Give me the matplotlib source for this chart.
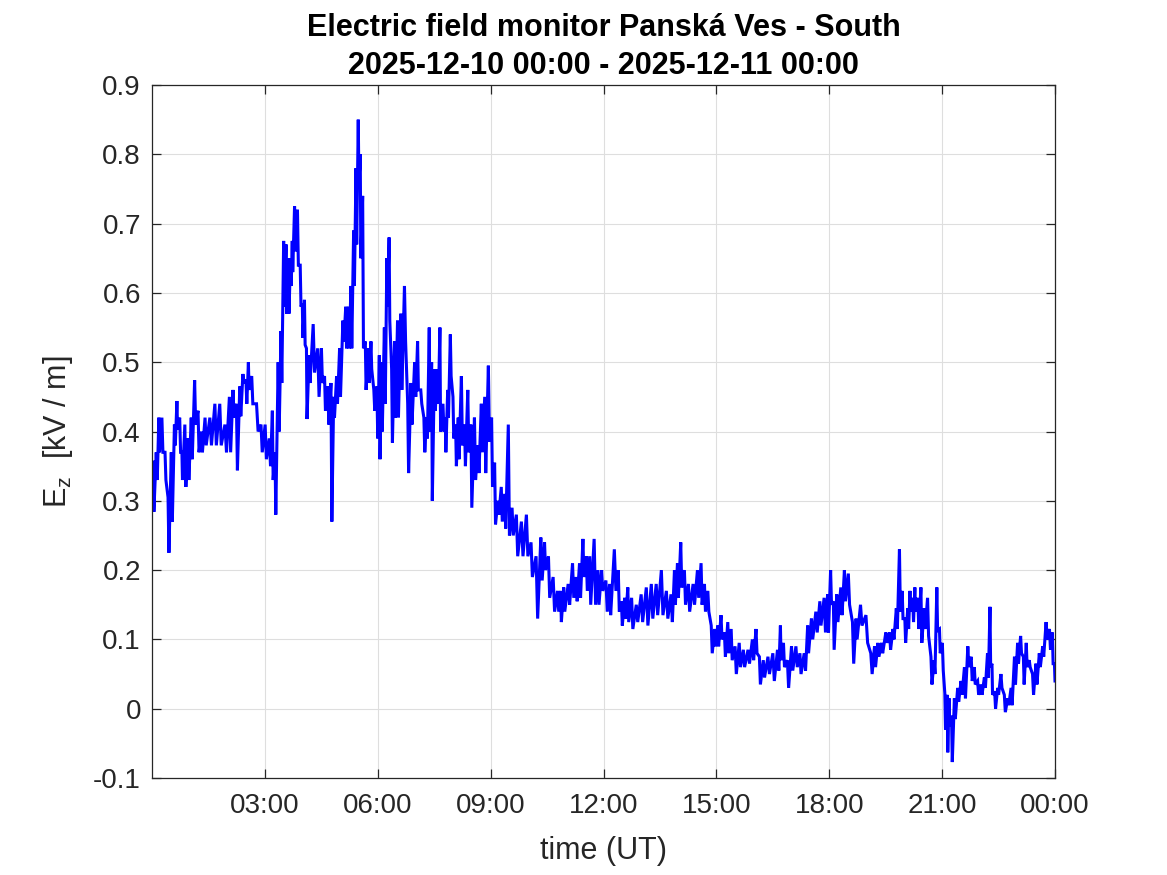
import matplotlib
matplotlib.use("Agg")
import matplotlib.pyplot as plt
import numpy as np

plt.rcParams['font.family'] = ['Liberation Sans', 'DejaVu Sans']

# time (hours UT) of each read sample, with the high and low value of the trace there (kV/m)
t_hours = [0.05,0.14,0.20,0.29,0.37,0.45,0.54,0.62,0.68,0.76,0.81,0.90,0.98,1.07,1.16,1.25,1.34,1.44,1.58,1.71,
           1.84,1.98,2.09,2.18,2.27,2.36,2.44,2.52,2.58,2.68,2.82,2.93,3.04,3.15,3.22,3.29,
           3.38,3.45,3.52,3.58,3.64,3.70,3.74,3.81,3.89,3.96,4.01,4.07,4.12,4.20,4.32,4.44,4.53,4.61,4.70,4.78,
           4.85,4.93,5.01,5.10,5.17,5.24,5.31,5.38,5.44,5.50,5.55,5.62,5.69,5.77,5.84,5.92,6.00,6.06,6.12,6.20,
           6.26,6.32,6.39,6.47,6.55,6.64,6.74,6.82,6.91,7.01,7.08,
           7.17,7.25,7.32,7.39,7.45,7.53,7.61,7.67,7.76,7.81,7.88,7.95,8.02,8.09,8.16,8.25,8.33,8.42,8.50,8.60,
           8.69,8.78,8.87,8.97,9.05,9.13,9.22,9.31,9.40,9.50,9.60,9.72,9.86,9.99,10.11,10.25,
           10.37,10.46,10.57,10.70,10.81,10.88,10.97,11.10,11.21,11.30,11.39,11.48,11.57,11.66,11.79,11.88,11.98,
           12.10,12.19,12.33,12.42,12.50,12.59,12.67,12.78,12.91,13.04,13.18,13.31,13.44,13.58,13.71,13.83,13.91,
           13.99,14.08,14.18,14.29,14.42,14.53,14.62,14.71,14.80,
           14.89,14.98,15.06,15.15,15.24,15.33,15.42,15.53,15.64,15.75,15.88,15.99,16.08,16.17,16.28,16.41,16.54,
           16.66,16.72,16.81,16.92,17.03,17.15,17.25,17.37,17.45,17.56,17.68,17.78,17.90,17.98,18.06,18.13,18.23,
           18.34,18.43,18.54,18.65,18.74,18.87,19.02,19.14,19.23,
           19.32,19.42,19.54,19.63,19.72,19.81,19.89,19.96,20.03,20.11,20.16,20.24,20.29,20.38,20.46,20.55,20.64,
           20.73,20.81,20.88,20.95,21.03,21.09,21.15,21.20,21.27,21.35,21.44,21.53,21.62,21.71,21.80,21.88,21.97,
           22.06,22.15,22.23,22.29,22.34,22.42,22.50,22.59,22.68,22.77,22.86,22.95,23.03,23.11,23.18,23.26,23.34,
           23.43,23.52,23.61,23.70,23.79,23.88,23.95,24.0]
ez_high = [0.356,0.37,0.42,0.42,0.37,0.305,0.37,0.41,0.444,0.42,0.37,0.41,0.39,0.42,0.474,0.43,0.40,0.42,0.42,0.44,
           0.44,0.41,0.45,0.46,0.44,0.465,0.483,0.475,0.50,0.48,0.44,0.41,0.41,0.39,0.43,0.37,
           0.50,0.545,0.675,0.67,0.65,0.65,0.675,0.725,0.72,0.64,0.585,0.59,0.52,0.51,0.555,0.52,0.52,0.48,0.465,0.47,
           0.45,0.48,0.52,0.56,0.58,0.58,0.61,0.69,0.78,0.85,0.80,0.74,0.53,0.52,0.53,0.46,0.465,0.51,0.50,0.55,
           0.65,0.68,0.49,0.53,0.56,0.57,0.61,0.44,0.47,0.50,0.53,
           0.46,0.42,0.42,0.55,0.50,0.49,0.49,0.55,0.44,0.42,0.46,0.54,0.45,0.41,0.42,0.48,0.41,0.46,0.41,0.42,
           0.38,0.44,0.45,0.495,0.42,0.355,0.30,0.32,0.31,0.41,0.29,0.28,0.27,0.28,0.24,0.22,
           0.247,0.24,0.22,0.19,0.17,0.17,0.175,0.18,0.21,0.19,0.21,0.245,0.22,0.22,0.245,0.20,0.20,
           0.185,0.18,0.23,0.20,0.155,0.16,0.175,0.16,0.15,0.165,0.175,0.18,0.18,0.20,0.17,0.165,0.20,
           0.21,0.24,0.20,0.18,0.18,0.20,0.21,0.18,0.17,
           0.12,0.115,0.12,0.135,0.11,0.125,0.115,0.09,0.095,0.085,0.085,0.10,0.115,0.075,0.07,0.075,0.08,
           0.085,0.12,0.095,0.07,0.09,0.09,0.08,0.08,0.12,0.13,0.14,0.155,0.16,0.165,0.20,0.155,0.165,
           0.175,0.20,0.195,0.125,0.13,0.15,0.135,0.08,0.09,
           0.095,0.095,0.11,0.11,0.115,0.145,0.23,0.17,0.13,0.145,0.17,0.16,0.175,0.16,0.175,0.145,0.16,
           0.075,0.07,0.175,0.115,0.095,0.022,0.02,0.015,-0.01,0.015,0.03,0.04,0.06,0.09,0.075,0.06,0.04,
           0.035,0.045,0.08,0.147,0.065,0.025,0.03,0.05,0.02,0.015,0.03,0.075,0.095,0.105,0.075,0.095,0.07,
           0.05,0.065,0.08,0.09,0.125,0.115,0.11,0.065]
ez_low = [0.284,0.33,0.37,0.37,0.33,0.225,0.27,0.38,0.403,0.37,0.33,0.32,0.33,0.36,0.41,0.37,0.37,0.38,0.38,0.38,
          0.38,0.37,0.37,0.42,0.344,0.422,0.47,0.44,0.46,0.44,0.40,0.37,0.36,0.35,0.33,0.28,
          0.40,0.47,0.58,0.57,0.57,0.61,0.63,0.66,0.64,0.58,0.535,0.525,0.418,0.47,0.485,0.45,0.47,0.43,0.41,0.27,
          0.42,0.44,0.45,0.53,0.52,0.52,0.52,0.61,0.67,0.757,0.65,0.52,0.46,0.47,0.49,0.43,0.39,0.36,0.40,0.44,
          0.58,0.56,0.384,0.42,0.42,0.46,0.53,0.34,0.41,0.45,0.46,
          0.44,0.37,0.39,0.40,0.30,0.43,0.44,0.40,0.40,0.37,0.42,0.48,0.39,0.35,0.36,0.38,0.35,0.37,0.29,0.33,
          0.34,0.37,0.34,0.385,0.32,0.266,0.28,0.27,0.26,0.25,0.25,0.22,0.22,0.22,0.19,0.13,
          0.185,0.20,0.16,0.14,0.14,0.125,0.14,0.15,0.16,0.155,0.16,0.19,0.17,0.15,0.15,0.15,0.17,
          0.14,0.135,0.17,0.14,0.12,0.13,0.125,0.115,0.125,0.125,0.12,0.13,0.135,0.135,0.13,0.125,0.15,
          0.16,0.175,0.15,0.14,0.15,0.16,0.15,0.14,0.14,
          0.08,0.09,0.09,0.10,0.075,0.08,0.07,0.05,0.06,0.06,0.065,0.07,0.08,0.035,0.045,0.05,0.04,
          0.055,0.07,0.06,0.03,0.055,0.06,0.05,0.055,0.08,0.10,0.11,0.12,0.11,0.11,0.15,0.085,0.125,
          0.135,0.155,0.15,0.065,0.10,0.12,0.095,0.05,0.06,
          0.075,0.08,0.095,0.085,0.10,0.115,0.14,0.13,0.095,0.115,0.14,0.125,0.14,0.115,0.095,0.115,0.105,
          0.035,0.05,0.113,0.08,0.055,-0.03,-0.063,-0.025,-0.077,-0.015,0.01,0.02,0.015,0.06,0.04,0.035,0.02,
          0.02,0.03,0.045,0.06,0.02,0.0,0.02,0.03,-0.005,0.005,0.005,0.035,0.065,0.08,0.035,0.06,0.06,
          0.02,0.035,0.06,0.075,0.10,0.085,0.065,0.04]

xtick_hours = [3, 6, 9, 12, 15, 18, 21, 24]
xtick_labels = ['03:00', '06:00', '09:00', '12:00', '15:00', '18:00', '21:00', '00:00']
ytick_vals = [-0.1, 0, 0.1, 0.2, 0.3, 0.4, 0.5, 0.6, 0.7, 0.8, 0.9]
ytick_labels = ['-0.1', '0', '0.1', '0.2', '0.3', '0.4', '0.5', '0.6', '0.7', '0.8', '0.9']

# build a zigzag trace (high, low alternately) from the read samples
t_arr = np.array(t_hours)
hi = np.array(ez_high)
lo = np.array(ez_low)
dt = np.diff(np.concatenate([[0.0], t_arr]))
t_line = np.column_stack([t_arr - 0.3 * dt, t_arr]).ravel()
v_line = np.column_stack([hi, lo]).ravel()

fig = plt.figure(figsize=(11.67, 8.75), dpi=100)
ax = fig.add_axes([152/1167, 1-778/875, (1055-152)/1167, (778-85)/875])
ax.plot(t_line, v_line, color=(0, 0, 1), lw=2.2, solid_joinstyle='miter')

ax.set_xlim(0, 24)
ax.set_ylim(-0.1, 0.9)
ax.set_xticks(xtick_hours)
ax.set_xticklabels(xtick_labels)
ax.set_yticks(ytick_vals)
ax.set_yticklabels(ytick_labels)

axcol = '#262626'
for s in ax.spines.values():
    s.set_color(axcol)
    s.set_linewidth(0.9)
ax.tick_params(direction='in', length=6.5, width=0.9, color=axcol, labelcolor=axcol,
               labelsize=20, top=True, right=True)
ax.tick_params(axis='x', pad=11)
ax.tick_params(axis='y', pad=8)
ax.grid(True, color='#dedede', lw=0.8)
ax.set_axisbelow(True)

ax.set_xlabel('time (UT)', fontsize=22, color=axcol, labelpad=12)
ax.set_ylabel(r'$\mathregular{E_z}$  [kV / m]', fontsize=22, color=axcol, labelpad=13)
ax.set_title('Electric field monitor Panská Ves - South\n2025-12-10 00:00 - 2025-12-11 00:00',
             fontsize=22, fontweight='bold', color='black', pad=8, linespacing=1.33)

fig.savefig('out.png', dpi=100)
